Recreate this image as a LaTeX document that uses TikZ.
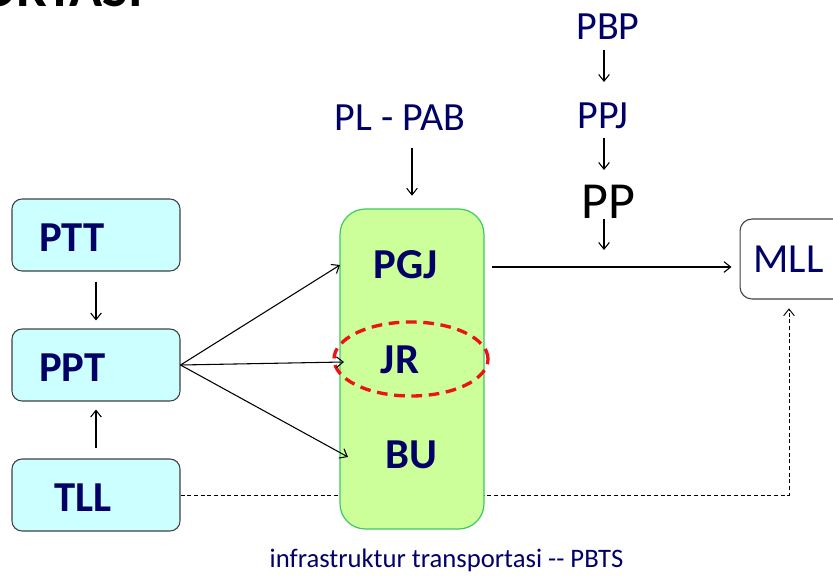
\documentclass[tikz,border=0pt]{standalone}
\usepackage{fontspec}
\setmainfont{Carlito}
\usetikzlibrary{arrows.meta,shapes.geometric}
\definecolor{navy}{RGB}{0,0,102}
\definecolor{cyanfill}{RGB}{204,255,255}
\definecolor{greenfill}{RGB}{204,255,153}
\definecolor{greenline}{RGB}{60,200,100}
\definecolor{boxline}{RGB}{64,64,64}
\definecolor{ringred}{RGB}{235,20,20}
\tikzset{
  cbox/.style={draw=boxline, line width=0.8pt, fill=cyanfill, rounded corners=7.5pt,
    minimum width=126pt, minimum height=54pt, text width=126pt, align=left,
    text height=25pt, text depth=0pt,
    inner ysep=0pt, font=\fontsize{32}{36}\selectfont\bfseries, text=navy},
  blbl/.style={font=\fontsize{32}{36}\selectfont\bfseries, text=navy, inner sep=0pt},
  rlbl/.style={font=\fontsize{30}{34}\selectfont, text=navy, inner sep=0pt},
  arr/.style={draw=black, line width=0.8pt, -{Straight Barb[length=5pt,width=8pt,line width=0.8pt]}},
  dsh/.style={draw=black, line width=0.7pt, dash pattern=on 3pt off 2pt}
}
\begin{document}
\begin{tikzpicture}[x=0.75pt,y=-0.75pt]
\useasboundingbox (0,0) rectangle (833,579);
\clip (0,0) rectangle (833,579);
% cut-off title
\node[anchor=base east, inner sep=0pt, font=\fontsize{41}{45}\selectfont\bfseries] (title) at (143,6.5) {ORTASI};
% left boxes
\node[cbox, inner xsep=20.25pt, text width=85.5pt] (ptt) at (96,235) {PTT};
\node[cbox, inner xsep=20.25pt, text width=85.5pt] (ppt) at (96,365) {PPT};
\node[cbox, inner xsep=32pt, text width=62pt] (tll) at (96,495) {TLL};
% MLL box (runs past the right edge)
\node[draw=boxline, line width=0.8pt, fill=white, rounded corners=9pt, minimum width=82pt,
  minimum height=60pt, inner xsep=10pt, inner ysep=0pt, text width=62pt, align=left,
  font=\fontsize{31}{35}\selectfont, text=navy] (mll) at (794.7,259) {MLL};
% dashed connector TLL -> MLL (behind green box)
\coordinate (mllin) at (789,299);
\draw[dsh, -{Straight Barb[length=5pt,width=8pt,line width=0.7pt]}, shorten >=7pt] (tll.east) -| (mllin);
% green box
\node[draw=greenline, line width=0.9pt, fill=greenfill, rounded corners=19pt,
  minimum width=108pt, minimum height=240pt, inner sep=0pt] (green) at (412,369) {};
\node[blbl] (pgj) at (405.5,265) {PGJ};
\node[blbl] (jr) at (400,360) {JR};
\node[blbl] (bu) at (411.5,455) {BU};
\node[draw=ringred, ellipse, line width=2.5pt, dash pattern=on 8pt off 5pt,
  minimum width=115.5pt, minimum height=55.5pt, inner sep=0pt] (ring) at (411,359) {};
% arrows between boxes
\draw[arr] ([yshift=-7.5pt]ptt.south) -- ([yshift=6pt]ppt.north);
\draw[arr] ([yshift=7.5pt]tll.north) -- ([yshift=-6pt]ppt.south);
\coordinate (pgjin) at (340,265);
\coordinate (jrin) at (344,362);
\coordinate (buin) at (348,457);
\draw[arr] (ppt.east) -- (pgjin);
\draw[arr] (ppt.east) -- (jrin);
\draw[arr] (ppt.east) -- (buin);
% PGJ -> MLL
\coordinate (gout) at (484,267);
\coordinate (min) at (mll.west |- gout);
\draw[arr, shorten <=6pt, shorten >=6pt] (gout) -- (min);
% top labels
\node[rlbl, anchor=base] (plpab) at (400,130) {PL - PAB};
\coordinate (pa1) at (412,148);
\draw[arr, shorten >=9.5pt] (pa1) -- (green.north -| pa1);
\node[rlbl, anchor=base] (pbp) at (608,39) {PBP};
\node[rlbl, anchor=base] (ppj) at (603,128) {PPJ};
\node[anchor=base, inner sep=0pt, font=\fontsize{39}{43}\selectfont] (pp) at (608.5,218) {PP};
\coordinate (c1) at (604,50);
\coordinate (c2) at (604,82);
\coordinate (c3) at (604,138);
\coordinate (c4) at (604,170);
\coordinate (c5) at (604,219);
\coordinate (c6) at (604,250);
\draw[arr] (c1) -- (c2);
\draw[arr] (c3) -- (c4);
\draw[arr] (c5) -- (c6);
% caption
\node[anchor=base, inner sep=0pt, font=\fontsize{20}{24}\selectfont, text=navy] (cap) at (446.5,567) {infrastruktur transportasi {-}{-} PBTS};
\end{tikzpicture}
\end{document}
